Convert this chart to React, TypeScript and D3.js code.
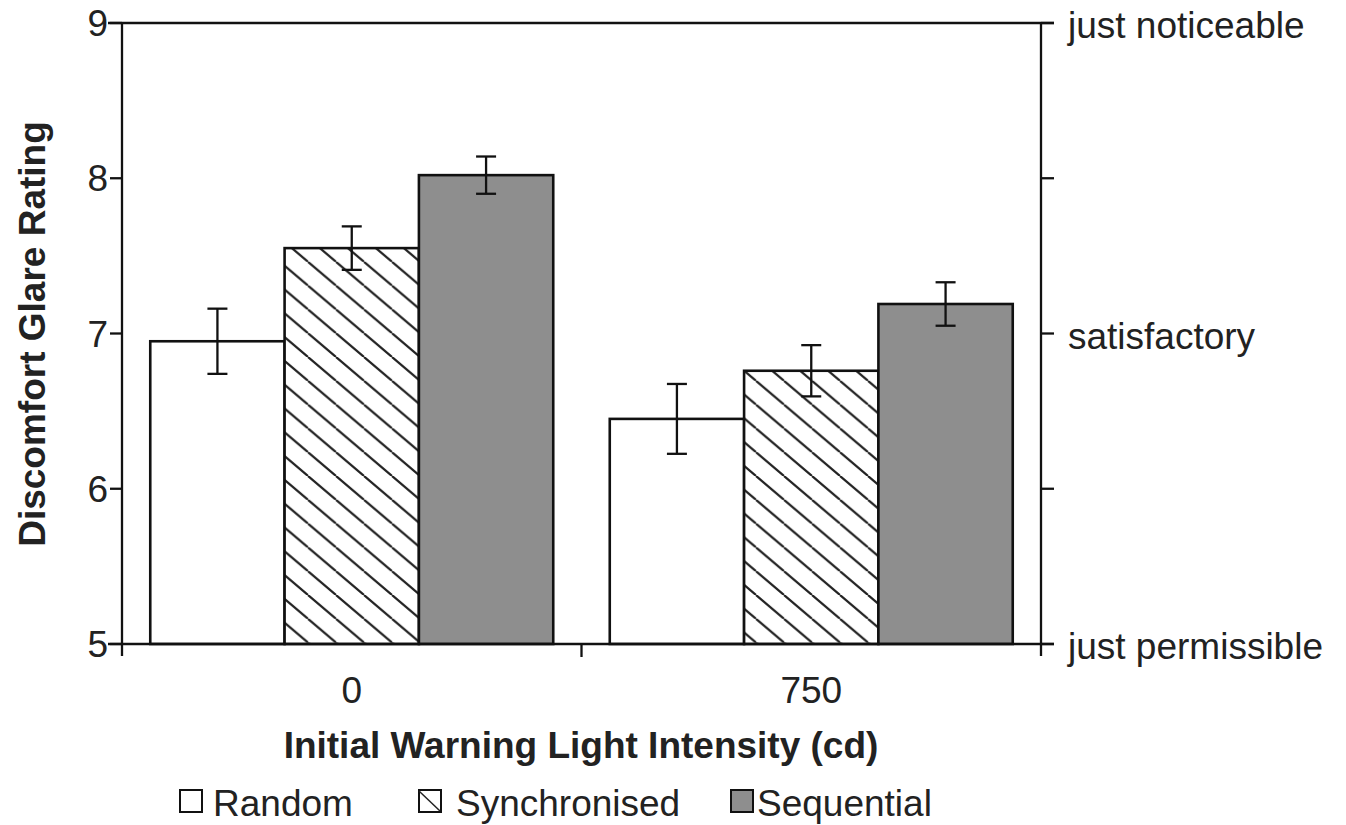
import React from "react";
import * as d3 from "d3";

const categories = ["0", "750"];
const seriesNames = ["Random", "Synchronised", "Sequential"];
const meanRandom = [6.95, 6.45];
const meanSynchronised = [7.55, 6.76];
const meanSequential = [8.02, 7.19];
const errRandom = [0.21, 0.225];
const errSynchronised = [0.14, 0.165];
const errSequential = [0.12, 0.14];
const leftTicks = [5, 6, 7, 8, 9];
const rightLabels = [
  { v: 9, label: "just noticeable" },
  { v: 7, label: "satisfactory" },
  { v: 5, label: "just permissible" },
];
const yTitle = "Discomfort Glare Rating";
const xTitle = "Initial Warning Light Intensity (cd)";

const W = 1346;
const H = 825;
const L = 122;
const R = 1041;
const T = 23;
const B = 644;
const FONT = "'Liberation Sans', Arial, Helvetica, sans-serif";
const FS = 37;
const FILLS = ["#ffffff", "url(#hatch)", "#8e8e8e"];

export default function App() {
  const y = d3.scaleLinear().domain([5, 9]).range([B, T]);
  const x0 = d3.scaleBand<string>().domain(categories).range([L, R]).paddingInner(0.123).paddingOuter(0.0615);
  const x1 = d3.scaleBand<string>().domain(seriesNames).range([0, x0.bandwidth()]).padding(0);
  const means = [meanRandom, meanSynchronised, meanSequential];
  const errs = [errRandom, errSynchronised, errSequential];
  const hs = 28;
  const slope = 0.85;
  const ph = hs * slope;

  const bars: any[] = [];
  categories.forEach((c, ci) => {
    seriesNames.forEach((s, si) => {
      const v = means[si][ci];
      const e = errs[si][ci];
      const bx = (x0(c) as number) + (x1(s) as number);
      const bw = x1.bandwidth();
      bars.push({ key: c + s, bx, bw, v, e, si });
    });
  });

  const legendItems = [
    { box: 180, text: 213 },
    { box: 419, text: 456 },
    { box: 731, text: 757 },
  ];

  return (
    <svg width={W} height={H} style={{ position: "absolute", left: 0, top: 0, background: "#fff" }} fontFamily={FONT}>
      <defs>
        <pattern id="hatch" patternUnits="userSpaceOnUse" width={hs} height={ph}>
          <rect width={hs} height={ph} fill="#fff" />
          <path d={`M0,0L${hs},${ph}M${-hs},0L0,${ph}M${hs},0L${2 * hs},${ph}`} stroke="#222" strokeWidth={2.2} />
        </pattern>
      </defs>
      <rect width={W} height={H} fill="#fff" />
      {bars.map((b) => (
        <rect key={b.key} x={b.bx} y={y(b.v)} width={b.bw} height={B - y(b.v)} fill={FILLS[b.si]} stroke="#111" strokeWidth={2.6} />
      ))}
      {bars.map((b) => {
        const cx = b.bx + b.bw / 2;
        const y1 = y(b.v + b.e);
        const y2 = y(b.v - b.e);
        return (
          <g key={"e" + b.key} stroke="#111" strokeWidth={2.3}>
            <line x1={cx} x2={cx} y1={y1} y2={y2} />
            <line x1={cx - 10} x2={cx + 10} y1={y1} y2={y1} />
            <line x1={cx - 10} x2={cx + 10} y1={y2} y2={y2} />
          </g>
        );
      })}
      <g stroke="#111" strokeWidth={2.3}>
        <line x1={L} x2={L} y1={T} y2={B + 12} />
        <line x1={R} x2={R} y1={T} y2={B + 12} />
        <line x1={L - 14} x2={R + 13} y1={T} y2={T} />
        <line x1={L - 14} x2={R + 13} y1={B} y2={B} />
        {leftTicks.map((t) => (
          <line key={"lt" + t} x1={L - 12} x2={L} y1={y(t)} y2={y(t)} />
        ))}
        {leftTicks.map((t) => (
          <line key={"rt" + t} x1={R} x2={R + 13} y1={y(t)} y2={y(t)} />
        ))}
        <line x1={(L + R) / 2} x2={(L + R) / 2} y1={B} y2={B + 13} />
      </g>
      {leftTicks.map((t) => (
        <text key={"ll" + t} x={108} y={y(t) + 13} fontSize={FS} textAnchor="end" fill="#222">
          {t}
        </text>
      ))}
      {rightLabels.map((r) => (
        <text key={"rl" + r.v} x={1068} y={y(r.v) + 15} fontSize={FS} fill="#222">
          {r.label}
        </text>
      ))}
      {categories.map((c) => (
        <text key={"c" + c} x={(x0(c) as number) + x0.bandwidth() / 2} y={703} fontSize={FS} textAnchor="middle" fill="#222">
          {c}
        </text>
      ))}
      <text x={581} y={758} fontSize={FS} fontWeight="bold" textAnchor="middle" fill="#222">
        {xTitle}
      </text>
      <text transform={`translate(45,334) rotate(-90)`} fontSize={FS} fontWeight="bold" textAnchor="middle" fill="#222">
        {yTitle}
      </text>
      {seriesNames.map((s, i) => (
        <g key={"lg" + s}>
          <rect x={legendItems[i].box} y={790} width={22} height={22} fill={i === 1 ? "#fff" : FILLS[i]} stroke="#111" strokeWidth={2} />
          {i === 1 && <line x1={legendItems[i].box} y1={791} x2={legendItems[i].box + 21} y2={811} stroke="#222" strokeWidth={1.5} />}
          <text x={legendItems[i].text} y={816} fontSize={FS} fill="#222">
            {s}
          </text>
        </g>
      ))}
    </svg>
  );
}
